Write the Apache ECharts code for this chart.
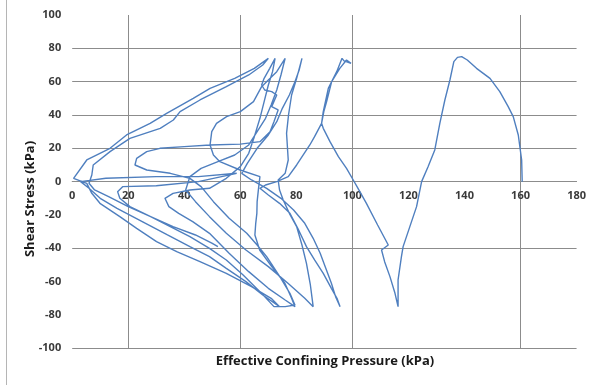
<!DOCTYPE html>
<html>
<head>
<meta charset="utf-8">
<script src="https://cdn.jsdelivr.net/npm/echarts@6/dist/echarts.min.js"></script>
<style>
  html, body { margin: 0; padding: 0; background: #fff; }
  #chart { width: 589px; height: 385px; }
</style>
</head>
<body>
<div id="chart"></div>
<script>
// Stress path of a cyclic test: [effective confining pressure (kPa), shear stress (kPa)]
const cycle1 = [
  [160.6, 0], [160.4, 13], [159.2, 28], [157.4, 39], [155.6, 45], [152.6, 54], [149.1, 62],
  [144.3, 68], [141, 73], [139, 75], [137.5, 74.6], [136.2, 72], [134.8, 61], [133, 49],
  [131.2, 35], [129.4, 19], [127, 9], [124.7, 0], [122.9, -15], [120.5, -27], [118.1, -39],
  [117.5, -45], [116.3, -59], [116.3, -75]
];
const cycle2 = [
  [115.2, -67], [113.4, -57], [111.5, -48], [110.4, -41], [112.8, -38], [109, -26], [105, -13],
  [102, -4], [100.3, 1], [97.9, 8], [95, 15], [92, 24], [89.6, 32], [89, 35], [89.8, 42],
  [90.8, 48], [92.6, 60], [95.5, 68], [97.9, 73], [99.5, 71], [97, 72.5], [96.3, 74],
  [94.4, 66], [91.4, 56], [89.6, 42], [89, 35], [86.5, 27], [84.8, 22], [80.1, 10], [77.1, 3],
  [73, 0], [69, -2], [67, -4], [70, -8], [74, -13], [77.7, -19], [80.5, -28], [83.6, -39],
  [86.5, -47], [89.6, -55], [92.5, -64], [94.5, -70], [95.6, -75]
];
const cycle3 = [
  [94, -69], [92.5, -61], [90.5, -52], [88.5, -43], [86, -34], [83, -25], [79, -17],
  [74.5, -10], [69.4, -4], [64, 1], [60.5, 5], [62.5, 11], [66, 20], [70, 28], [73, 36],
  [75, 44], [77.5, 52], [79.5, 60], [81, 67], [82, 74], [80.1, 62], [78.3, 52], [77.2, 40],
  [76.5, 29], [77.1, 13], [76, 5], [73.5, 1], [74, -5], [75.3, -11], [77.5, -19], [80.1, -27],
  [82, -38], [83.6, -49], [85, -62], [86, -75]
];
const cycle4 = [
  [83, -70], [77, -61], [70, -51], [62, -41], [55, -31], [49, -21], [44, -12], [40.5, -5],
  [42, 3], [46, 8], [52, 12], [58, 16], [63, 22], [66, 30], [69, 38], [71, 46], [73, 55],
  [74.5, 64], [76, 74], [73, 66], [70, 61], [67.6, 57], [64.7, 48], [60, 42], [55.1, 39],
  [51.5, 35], [49.8, 30], [49.2, 22], [50.4, 16], [52.7, 12], [59.9, 7], [67, 3], [66.5, -4],
  [66, -12], [65.9, -19], [65.5, -25], [65.2, -32], [66.9, -41], [71.2, -51], [75.9, -61],
  [78.3, -70], [79.5, -75]
];
const cycle5 = [
  [76, -71], [70, -64], [63, -54], [56, -43], [49, -31], [43, -24], [38, -19], [34.5, -15],
  [33.1, -10], [36, -7], [42, -5], [49, -4], [55, 2], [60, 9], [63, 17], [65, 27], [67, 38],
  [68.5, 48], [70, 58], [71.5, 66], [72.4, 74], [70.5, 68], [68.5, 62], [67.6, 58], [68.7, 55],
  [71.2, 54], [73, 52], [71.2, 45], [73.5, 43], [72, 36], [70.6, 30], [67, 24], [60, 22.5],
  [49.2, 22], [40, 21], [31.3, 20], [26.6, 18], [23, 14], [22.4, 10], [26.6, 7], [35, 5],
  [42, 2], [46, -3], [50.4, -12], [56, -22], [62.3, -31], [66, -38], [69.4, -45], [74.1, -57],
  [77.7, -67], [79.5, -74], [76, -75], [72, -75]
];
const cycle6 = [
  [67, -66], [61, -56], [55, -47], [49, -40], [42, -33], [35, -27], [28, -21], [20, -15],
  [13, -9], [8, -5], [6, -1], [7, 4], [7.5, 10], [13.5, 18], [20.6, 26], [31.4, 32],
  [36.1, 37], [38.5, 42], [45.6, 49], [55, 57], [63, 64], [68, 70], [70, 74], [65, 68],
  [58, 62], [49.2, 56], [43.2, 50], [33.7, 41], [27.8, 35], [19.4, 28], [13.5, 20], [5.2, 13],
  [0.5, 2], [5.2, -1], [7, -7], [9.9, -13], [17, -21], [23, -28], [30.1, -36], [37.3, -42],
  [45.6, -48], [55, -55], [64, -63], [71, -70], [74, -75]
];
const cycle7 = [
  [68, -68], [62, -60], [55, -52], [49, -45], [42, -39], [34, -32], [25, -24], [16, -16],
  [10, -10], [6, -4], [3, 0], [12, 2], [30, 3], [45, 3], [58.7, 5], [45, 0], [30, -2.5],
  [18, -3], [16.2, -6], [17, -10], [20.6, -15], [28, -21], [36, -27], [44, -32], [50, -37],
  [52, -39]
];

const xTicks = [0, 20, 40, 60, 80, 100, 120, 140, 160, 180];
const yTicks = [-100, -80, -60, -40, -20, 0, 20, 40, 60, 80, 100];

const path = [].concat(cycle1, cycle2, cycle3, cycle4, cycle5, cycle6, cycle7);

const GRID = '#8c8c8c';
const NONE = 'rgba(0,0,0,0)';
// gridlines kept only at the values where the printed chart draws them
const xGridShown = [20, 60, 100, 160];
const yGridShown = [-100, -40, 0, 20, 40, 60, 80];

const GRID_TOP = 15, GRID_BOTTOM = 36.7;
const plotHeight = 385 - GRID_TOP - GRID_BOTTOM;
// the pressure axis sits on the zero shear line, half way up the plot
const zeroLift = plotHeight * (0 - yTicks[0]) / (yTicks[yTicks.length - 1] - yTicks[0]);

const chart = echarts.init(document.getElementById('chart'), null, { renderer: 'canvas' });
chart.setOption({
  animation: false,
  backgroundColor: '#fff',
  textStyle: { fontFamily: 'Open Sans' },
  grid: { left: 72.2, right: 12.3, top: GRID_TOP, bottom: GRID_BOTTOM },
  xAxis: {
    type: 'value', min: 0, max: 180, interval: 20,
    offset: -zeroLift,
    axisLine: { show: true, onZero: false, lineStyle: { color: GRID, width: 1 } },
    axisTick: { show: false },
    axisLabel: { margin: 9, color: '#3a3a3a', fontSize: 11, fontWeight: 'bold', fontFamily: 'Open Sans' },
    splitLine: { show: true, lineStyle: { color: xTicks.map(v => xGridShown.includes(v) ? GRID : NONE), width: 1 } }
  },
  yAxis: {
    type: 'value', min: -100, max: 100, interval: 20,
    axisLine: { show: false, onZero: false },
    axisTick: { show: false },
    axisLabel: { margin: 11, color: '#3a3a3a', fontSize: 11, fontWeight: 'bold', fontFamily: 'Open Sans' },
    splitLine: { show: true, lineStyle: { color: yTicks.map(v => yGridShown.includes(v) ? GRID : NONE), width: 1 } }
  },
  graphic: [
    { type: 'line', shape: { x1: 6.5, y1: 0, x2: 6.5, y2: 385 }, style: { stroke: '#b5b5b5', lineWidth: 1 } },
    { type: 'text', x: 325, y: 361,
      style: { text: 'Effective Confining Pressure (kPa)', font: 'bold 13px "Open Sans"', fill: '#1a1a1a', align: 'center', verticalAlign: 'middle' } },
    { type: 'text', x: 30, y: 199, rotation: Math.PI / 2,
      style: { text: 'Shear Stress (kPa)', font: 'bold 13px "Open Sans"', fill: '#1a1a1a', align: 'center', verticalAlign: 'middle' } }
  ],
  series: [{
    type: 'line',
    data: path,
    showSymbol: false,
    smooth: false,
    lineStyle: { color: '#4f7fbf', width: 1.4 }
  }]
});
</script>
</body>
</html>
